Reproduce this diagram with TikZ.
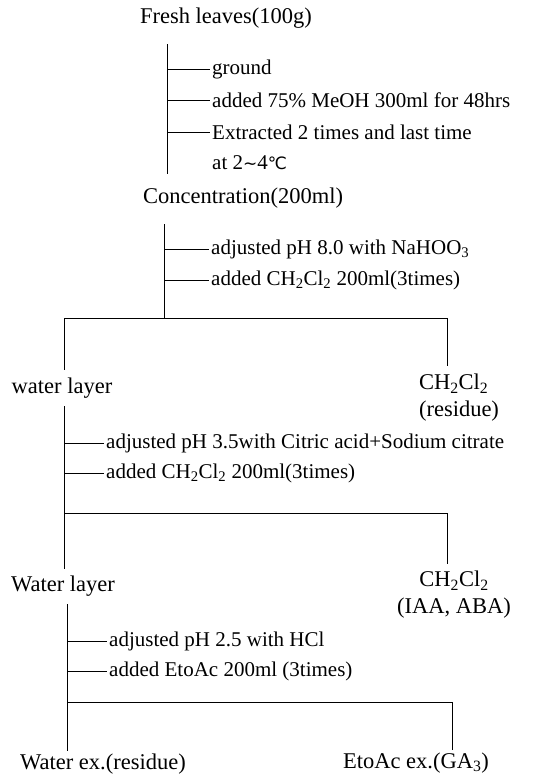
\documentclass[tikz,border=0pt]{standalone}
\usepackage{fontspec}
\setmainfont{Liberation Serif}
\newfontfamily\symfont{DejaVu Sans}
\usetikzlibrary{positioning}

\begin{document}
\begin{tikzpicture}[
    x=1pt, y=-1pt,
    stage/.style={font=\fontsize{22.5}{27}\selectfont, inner sep=2pt},
    stepnote/.style={font=\fontsize{21}{27}\selectfont, anchor=west, inner sep=2pt},
    flow/.style={line width=0.9pt}
]
\useasboundingbox (0,0) rectangle (543,776);

% Stages
\node[stage] (fresh) at (226,18) {Fresh leaves(100g)};
\node[stage] (conc) at (243,198) {Concentration(200ml)};
\node[stage] (water1) at (62,388) {water layer};
\node[stage, align=left] (dcmres) at (459,398) {CH\textsubscript{2}Cl\textsubscript{2}\\(residue)};
\node[stage] (water2) at (63,586) {Water layer};
\node[stage, align=center] (dcmiaa) at (454,595) {CH\textsubscript{2}Cl\textsubscript{2}\\(IAA, ABA)};
\node[stage] (waterex) at (103,764) {Water ex.(residue)};
\node[stage] (etoacex) at (416,763) {EtoAc ex.(GA\textsubscript{3})};

% Column positions of the trunk lines
\coordinate (c1) at (167,0);
\coordinate (c2) at (164,0);
\coordinate (c3) at (64,0);
\coordinate (c4) at (67,0);
\coordinate (r1) at (447,0);
\coordinate (r2) at (447,0);
\coordinate (r3) at (452,0);

% Step notes
\node[stepnote] (ground) at (210,69) {ground};
\node[stepnote] (meoh) at (210,100) {added 75\% MeOH 300ml for 48hrs};
\node[stepnote] (extract) at (210,132) {Extracted 2 times and last time};
\node[stepnote] (extractb) at (210,163) {at 2{\symfont\fontsize{17}{20}\selectfont ∼}4{\symfont\fontsize{17}{20}\selectfont ℃}};

\node[stepnote] (ph8) at (209,249) {adjusted pH 8.0 with NaHOO\textsubscript{3}};
\node[stepnote] (dcm1) at (209,280) {added CH\textsubscript{2}Cl\textsubscript{2} 200ml(3times)};

\node[stepnote] (ph35) at (104,443) {adjusted pH 3.5with Citric acid+Sodium citrate};
\node[stepnote] (dcm2) at (104,473) {added CH\textsubscript{2}Cl\textsubscript{2} 200ml(3times)};

\node[stepnote] (ph25) at (107,641) {adjusted pH 2.5 with HCl};
\node[stepnote] (etoac) at (107,671) {added EtoAc 200ml (3times)};

% Split points
\coordinate (split1) at (0,318);
\coordinate (split2) at (0,513);
\coordinate (split3) at (0,702);

% Trunk 1
\draw[flow] ([yshift=-14pt]fresh.south -| c1) -- ([yshift=12pt]conc.north -| c1);
\foreach \n in {ground, meoh, extract}
    \draw[flow] (\n.west -| c1) -- (\n.west);

% Trunk 2
\draw[flow] ([yshift=-14pt]conc.south -| c2) -- (split1 -| c2);
\foreach \n in {ph8, dcm1}
    \draw[flow] (\n.west -| c2) -- (\n.west);
\draw[flow] ([yshift=6pt]water1.north -| c3) |- (split1 -| r1) -- ([yshift=6pt]dcmres.north -| r1);

% Trunk 3
\draw[flow] ([yshift=-6pt]water1.south -| c3) -- ([yshift=5pt]water2.north -| c3);
\foreach \n in {ph35, dcm2}
    \draw[flow] (\n.west -| c3) -- (\n.west);
\draw[flow] (split2 -| c3) -| ([yshift=5pt]dcmiaa.north -| r2);

% Trunk 4
\draw[flow] ([yshift=-6pt]water2.south -| c4) -- ([yshift=1pt]waterex.north -| c4);
\foreach \n in {ph25, etoac}
    \draw[flow] (\n.west -| c4) -- (\n.west);
\draw[flow] (split3 -| c4) -| ([yshift=1pt]etoacex.north -| r3);

\end{tikzpicture}
\end{document}
